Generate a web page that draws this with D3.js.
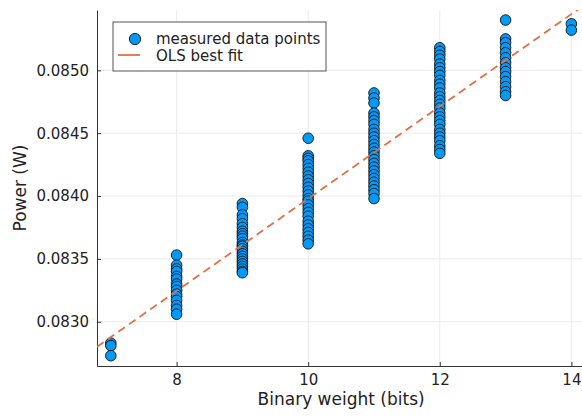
<!DOCTYPE html>
<html>
<head>
<meta charset="utf-8">
<script src="https://cdn.jsdelivr.net/npm/d3@7"></script>
<style>
  body { margin: 0; background: #fff; }
  text { font-family: "DejaVu Sans", sans-serif; fill: #222; }
</style>
</head>
<body>
<div class="chart"></div>
<script>
const dims = { width: 582, height: 418 };
const plot = { left: 97, top: 10, right: 585.2, bottom: 366 };

// Data: power (W) measured for each binary weight
const weights = [7, 8, 9, 10, 11, 12, 13, 14];
const power_w7 = [0.08283, 0.08281, 0.08273];
const power_w8 = [0.08353, 0.08345, 0.08342, 0.08340, 0.08336, 0.08334, 0.08330, 0.08328, 0.08325,
                  0.08322, 0.08320, 0.08317, 0.08313, 0.08310, 0.08306];
const power_w9 = [0.08394, 0.08391, 0.08385, 0.08382, 0.08378, 0.08375, 0.08372, 0.08370, 0.08368,
                  0.08366, 0.08363, 0.08361, 0.08360, 0.08358, 0.08356, 0.08354, 0.08352, 0.08350,
                  0.08348, 0.08346, 0.08344, 0.08342, 0.08340, 0.08339];
const power_w10 = [0.08446, 0.08432, 0.08430, 0.08428, 0.08425, 0.08422, 0.08419, 0.08416, 0.08413,
                   0.08410, 0.08407, 0.08404, 0.08401, 0.08398, 0.08396, 0.08393, 0.08390, 0.08387,
                   0.08384, 0.08380, 0.08377, 0.08374, 0.08371, 0.08368, 0.08365, 0.08362];
const power_w11 = [0.08482, 0.08478, 0.08474, 0.08466, 0.08463, 0.08460, 0.08457, 0.08453, 0.08450,
                   0.08447, 0.08444, 0.08441, 0.08438, 0.08435, 0.08432, 0.08429, 0.08426, 0.08423,
                   0.08420, 0.08417, 0.08414, 0.08411, 0.08408, 0.08405, 0.08402, 0.08398];
const power_w12 = [0.08518, 0.08515, 0.08512, 0.08509, 0.08505, 0.08502, 0.08499, 0.08496, 0.08492,
                   0.08489, 0.08486, 0.08482, 0.08479, 0.08476, 0.08473, 0.08470, 0.08466, 0.08463,
                   0.08460, 0.08457, 0.08453, 0.08450, 0.08447, 0.08444, 0.08440, 0.08437, 0.08434];
const power_w13 = [0.08540, 0.08525, 0.08522, 0.08518, 0.08514, 0.08510, 0.08506, 0.08502, 0.08499,
                   0.08495, 0.08491, 0.08487, 0.08483, 0.08480];
const power_w14 = [0.08537, 0.08532];
const power_by_weight = [power_w7, power_w8, power_w9, power_w10, power_w11, power_w12, power_w13, power_w14];

// OLS best fit line, end points
const fit_x = [6.79, 14.21];
const fit_y = [0.082801, 0.085524];

const x_ticks = [8, 10, 12, 14];
const y_ticks = [0.0830, 0.0835, 0.0840, 0.0845, 0.0850];

const marker_color = '#009af9';
const line_color = '#e26f46';

// flatten into points
var points = [];
weights.forEach(function(w, i) {
  power_by_weight[i].forEach(function(p) { points.push({ x: w, y: p }); });
});

var svg = d3.select(".chart")
            .append("svg")
            .attr("width", dims.width)
            .attr("height", dims.height);

var x = d3.scaleLinear().domain([6.79, 14.21]).range([plot.left, plot.right]);
var y = d3.scaleLinear().domain([0.082648, 0.08548]).range([plot.bottom, plot.top]);

svg.append("clipPath").attr("id", "plotclip")
   .append("rect")
   .attr("x", plot.left).attr("y", plot.top)
   .attr("width", plot.right - plot.left).attr("height", plot.bottom - plot.top);

// grid
svg.append("g").selectAll("line").data(x_ticks).enter().append("line")
   .attr("x1", d => x(d)).attr("x2", d => x(d))
   .attr("y1", plot.top).attr("y2", plot.bottom)
   .attr("stroke", "#ebebeb").attr("stroke-width", 1);
svg.append("g").selectAll("line").data(y_ticks).enter().append("line")
   .attr("x1", plot.left).attr("x2", plot.right)
   .attr("y1", d => y(d)).attr("y2", d => y(d))
   .attr("stroke", "#ebebeb").attr("stroke-width", 1);

// axes (ticks point inward)
const x_axis = svg.append("g").attr("transform", `translate(0,${plot.bottom})`)
   .call(d3.axisBottom(x).tickValues(x_ticks).tickFormat(d3.format("d")).tickSizeInner(-4).tickSizeOuter(0).tickPadding(8));
const y_axis = svg.append("g").attr("transform", `translate(${plot.left},0)`)
   .call(d3.axisLeft(y).tickValues(y_ticks).tickFormat(d3.format(".4f")).tickSizeInner(-4).tickSizeOuter(0).tickPadding(8));

[x_axis, y_axis].forEach(function(ax) {
  ax.select(".domain").attr("stroke", "#333");
  ax.selectAll(".tick line").attr("stroke", "#333");
  ax.selectAll(".tick text").attr("font-size", "15").attr("font-family", "DejaVu Sans").style("fill", "#222");
});

// points
var marks = svg.append("g").attr("clip-path", "url(#plotclip)");
marks.selectAll("circle").data(points).enter().append("circle")
   .attr("cx", d => x(d.x))
   .attr("cy", d => y(d.y))
   .attr("r", 5.3)
   .attr("fill", marker_color)
   .attr("stroke", "#111")
   .attr("stroke-width", 0.9);

// fit line
marks.append("path")
   .datum(fit_x.map((d, i) => [d, fit_y[i]]))
   .attr("d", d3.line().x(d => x(d[0])).y(d => y(d[1])))
   .attr("fill", "none")
   .attr("stroke", line_color)
   .attr("stroke-width", 1.8)
   .attr("stroke-dasharray", "8,5");

// axis labels
svg.append("text")
   .attr("x", (plot.left + plot.right) / 2)
   .attr("y", 405)
   .attr("text-anchor", "middle")
   .attr("font-size", "17")
   .text("Binary weight (bits)");
svg.append("text")
   .attr("transform", `translate(26,${(plot.top + plot.bottom) / 2}) rotate(-90)`)
   .attr("text-anchor", "middle")
   .attr("font-size", "17")
   .text("Power (W)");

// legend
var legend = svg.append("g");
legend.append("rect")
   .attr("x", 113).attr("y", 22).attr("width", 213).attr("height", 49)
   .attr("fill", "#fff").attr("stroke", "#555").attr("stroke-width", 1);
legend.append("circle")
   .attr("cx", 135).attr("cy", 39).attr("r", 5.6)
   .attr("fill", marker_color).attr("stroke", "#111").attr("stroke-width", 0.9);
legend.append("line")
   .attr("x1", 118).attr("x2", 140).attr("y1", 55).attr("y2", 55)
   .attr("stroke", line_color).attr("stroke-width", 1.8);
legend.append("text").attr("x", 156).attr("y", 43.5).attr("font-size", "15").text("measured data points");
legend.append("text").attr("x", 156).attr("y", 61).attr("font-size", "15").text("OLS best fit");
</script>
</body>
</html>
